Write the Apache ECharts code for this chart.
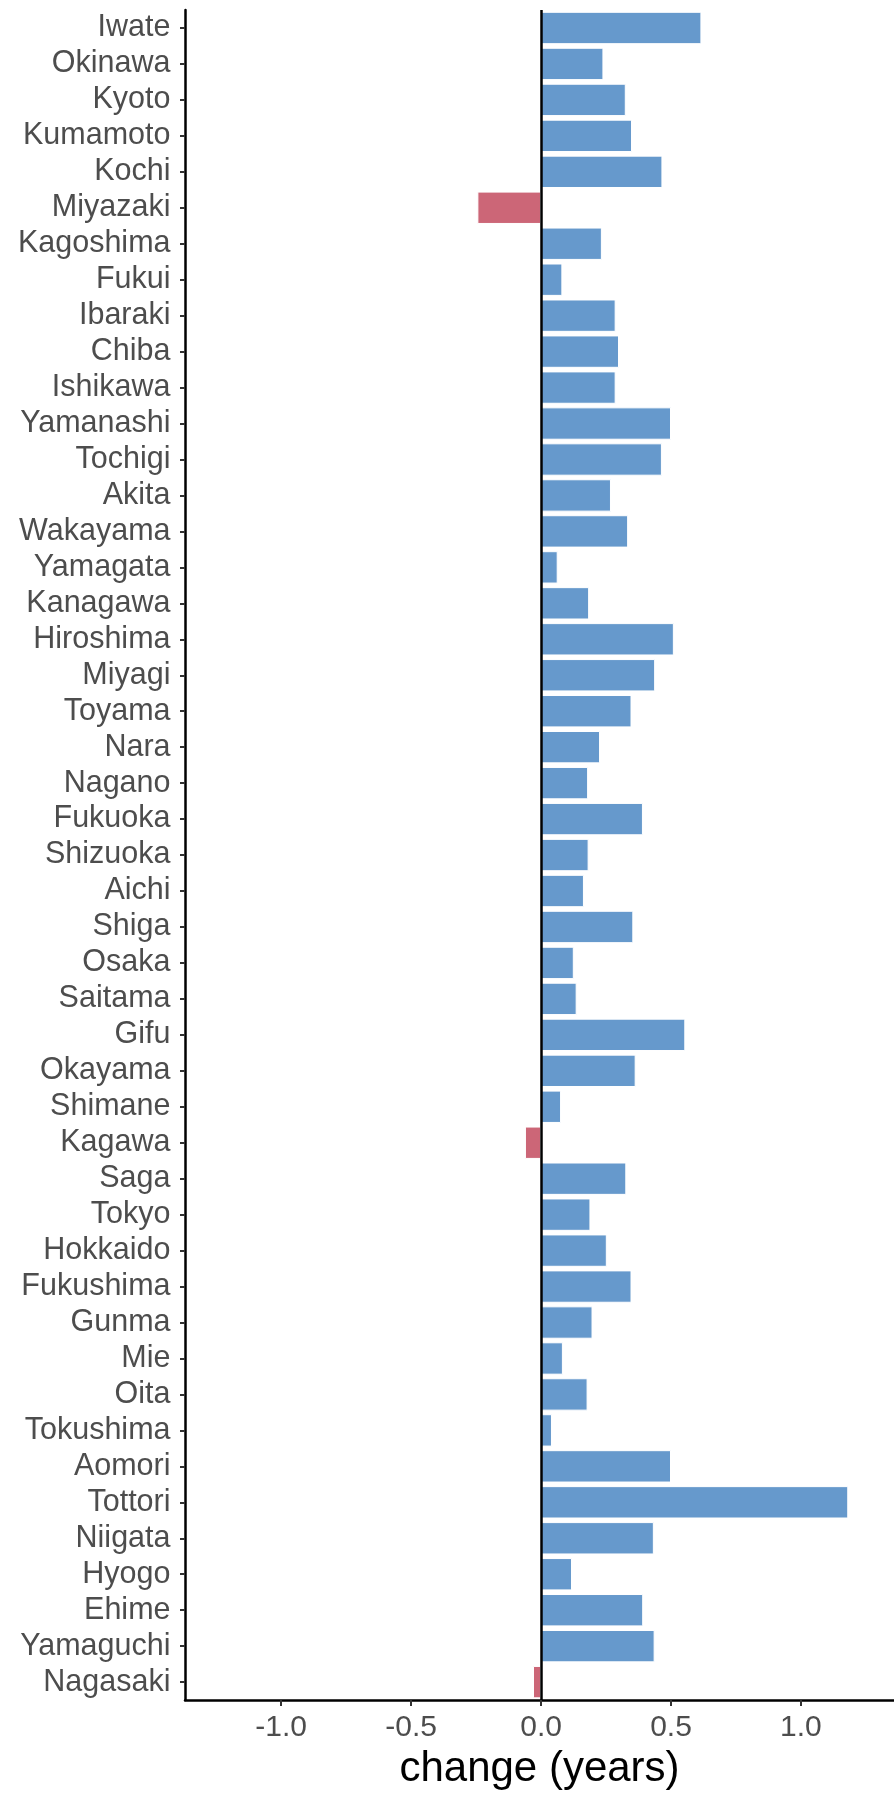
<!DOCTYPE html>
<html>
<head>
<meta charset="utf-8">
<script src="https://cdn.jsdelivr.net/npm/echarts@6/dist/echarts.min.js"></script>
<style>
html,body{margin:0;padding:0;background:#fff;}
#chart{width:894px;height:1795px;}
</style>
</head>
<body>
<div id="chart"></div>
<script>
const categories = ["Iwate","Okinawa","Kyoto","Kumamoto","Kochi","Miyazaki","Kagoshima","Fukui","Ibaraki","Chiba","Ishikawa","Yamanashi","Tochigi","Akita","Wakayama","Yamagata","Kanagawa","Hiroshima","Miyagi","Toyama","Nara","Nagano","Fukuoka","Shizuoka","Aichi","Shiga","Osaka","Saitama","Gifu","Okayama","Shimane","Kagawa","Saga","Tokyo","Hokkaido","Fukushima","Gunma","Mie","Oita","Tokushima","Aomori","Tottori","Niigata","Hyogo","Ehime","Yamaguchi","Nagasaki"];
const changeYears = [0.617,0.240,0.326,0.350,0.467,-0.245,0.234,0.082,0.287,0.300,0.287,0.500,0.465,0.269,0.335,0.064,0.185,0.511,0.439,0.348,0.227,0.181,0.392,0.183,0.165,0.355,0.126,0.137,0.555,0.364,0.077,-0.062,0.328,0.190,0.253,0.348,0.198,0.084,0.179,0.042,0.500,1.182,0.434,0.119,0.393,0.437,-0.031];
const xTicks = [-1.0,-0.5,0.0,0.5,1.0];
const posColor = '#6699CC';
const negColor = '#CC6677';

const chart = echarts.init(document.getElementById('chart'), null, {renderer:'canvas'});
const fontFamily = '"Liberation Sans", Arial, sans-serif';
chart.setOption({
  animation:false,
  backgroundColor:'#ffffff',
  grid:{left:185, right:0, top:10, bottom:92, containLabel:false},
  xAxis:{
    type:'value', min:-1.37, max:1.358,
    splitLine:{show:false},
    axisLine:{show:true, onZero:false, lineStyle:{color:'#000', width:2.5}},
    axisTick:{show:true, length:6, lineStyle:{color:'#333', width:2}, customValues:xTicks},
    axisLabel:{show:true, customValues:xTicks, color:'#4d4d4d', fontSize:30, lineHeight:30, fontFamily:fontFamily, margin:13,
      formatter:function(v){return v.toFixed(1);}},
    name:'change (years)', nameLocation:'middle', nameGap:45,
    nameTextStyle:{color:'#000', fontSize:42, lineHeight:42, fontFamily:fontFamily}
  },
  yAxis:{
    type:'category', data:categories, inverse:true,
    axisLine:{show:true, onZero:false, lineStyle:{color:'#000', width:2.5}},
    axisTick:{show:true, alignWithLabel:true, length:5, lineStyle:{color:'#333', width:2}},
    axisLabel:{color:'#4d4d4d', fontSize:30.5, fontFamily:fontFamily, margin:14.5, interval:0},
    splitLine:{show:false}
  },
  series:[{
    type:'bar',
    barCategoryGap:'10%',
    data:changeYears.map(function(v){return {value:v, itemStyle:{color: v<0?negColor:posColor}};}),
    itemStyle:{borderColor:'#ffffff', borderWidth:1},
    markLine:{
      silent:true, symbol:['none','none'],
      label:{show:false},
      lineStyle:{color:'#000', width:2.5, type:'solid'},
      data:[{xAxis:0}]
    }
  }]
});
</script>
</body>
</html>
